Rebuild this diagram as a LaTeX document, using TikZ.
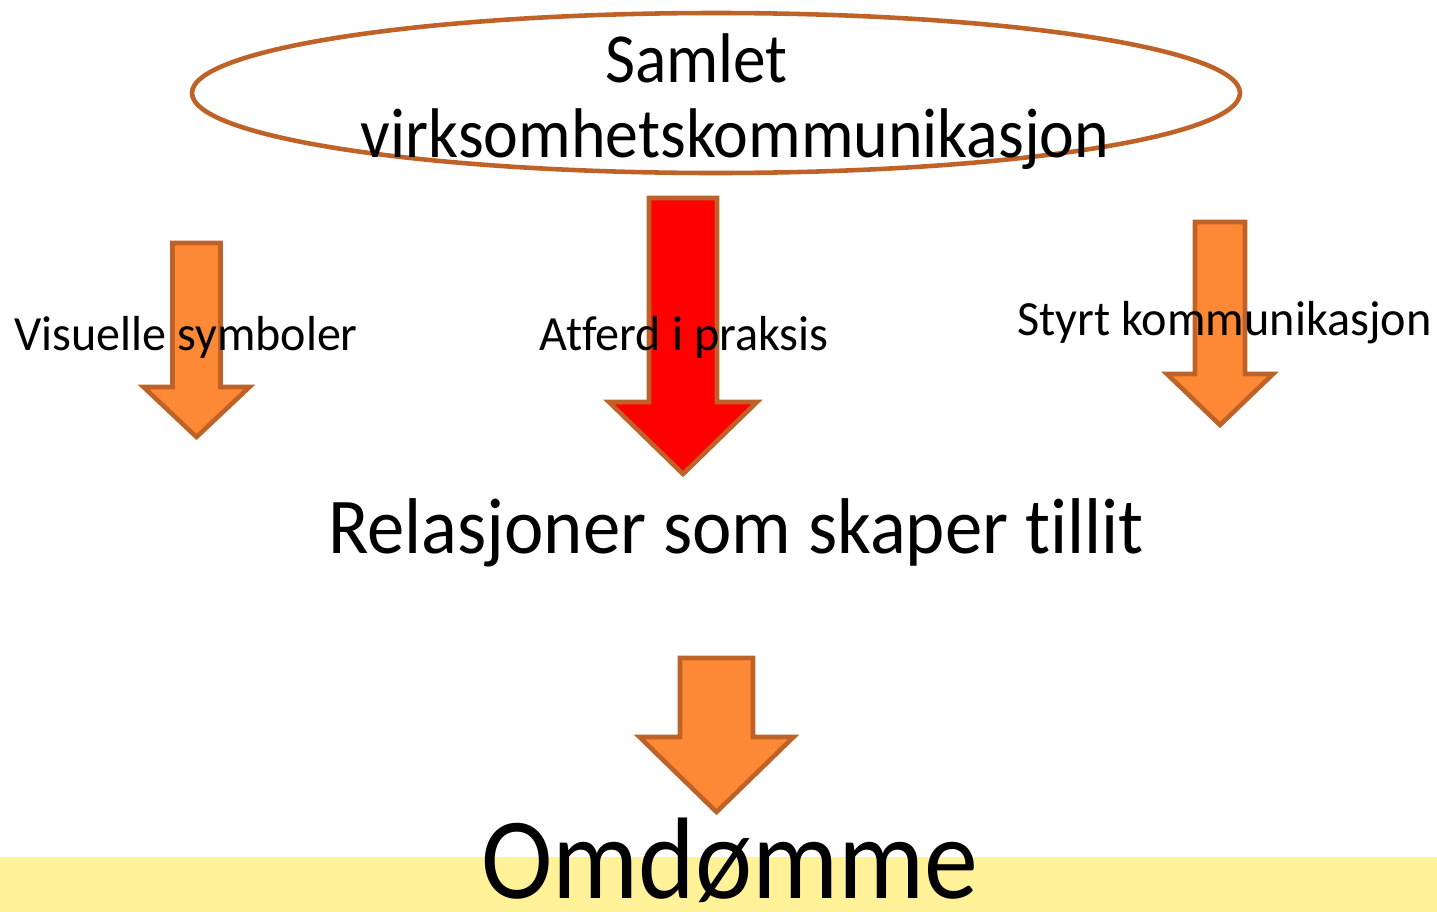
\documentclass[tikz,border=0pt]{standalone}
\usepackage{fontspec}
\setmainfont{Carlito}[Ligatures=NoCommon]
\usetikzlibrary{shapes.geometric}

\definecolor{arrowfill}{RGB}{253,137,55}
\definecolor{arrowline}{RGB}{190,98,40}
\definecolor{bandfill}{RGB}{255,242,153}

% block arrow pointing down: centre x, top, neck, tip, half shaft, half head
\newcommand{\downblock}[7]{%
  \filldraw[blockarrow,fill=#7] (#1-#5,#2) -- (#1+#5,#2) -- (#1+#5,#3) -- (#1+#6,#3)
    -- (#1,#4) -- (#1-#6,#3) -- (#1-#5,#3) -- cycle;}
% narrow the text a little
\newcommand{\narrow}[2]{\scalebox{#1}[1]{#2}}

\tikzset{
  blockarrow/.style={draw=arrowline,line width=1.3pt,line join=miter},
  lbl/.style={anchor=base,inner sep=0pt},
}

\begin{document}
\begin{tikzpicture}
\useasboundingbox (0,0) rectangle (14.37,-9.12);
\fill[bandfill] (0,-8.57) rectangle (14.37,-9.12);

\node[shape=ellipse,draw=arrowline,line width=1.3pt,minimum width=10.48cm,minimum height=1.6cm] (top) at (7.16,-0.93) {};

\downblock{1.965}{-2.43}{-3.87}{-4.37}{0.24}{0.53}{arrowfill}
\downblock{6.83}{-1.98}{-4.02}{-4.74}{0.34}{0.74}{red}
\downblock{12.20}{-2.22}{-3.74}{-4.25}{0.25}{0.53}{arrowfill}
\downblock{7.165}{-6.58}{-7.37}{-8.12}{0.365}{0.77}{arrowfill}

\node[lbl,font=\fontsize{20}{24}\selectfont] (samlet) at (6.965,-0.82) {\narrow{0.93}{Samlet}};
\node[lbl,font=\fontsize{20}{24}\selectfont] (virk) at (7.35,-1.57) {\narrow{0.937}{virksomhetskommunikasjon}};
\node[lbl,font=\fontsize{14}{17}\selectfont] (visuelle) at (1.86,-3.50) {\narrow{0.977}{Visuelle symboler}};
\node[lbl,font=\fontsize{14}{17}\selectfont] (atferd) at (6.84,-3.50) {\narrow{0.98}{Atferd i praksis}};
\node[lbl,font=\fontsize{14}{17}\selectfont] (styrt) at (12.245,-3.35) {\narrow{0.98}{Styrt kommunikasjon}};
\node[lbl,font=\fontsize{22.5}{27}\selectfont] (relasjoner) at (7.36,-5.53) {\narrow{0.944}{Relasjoner som skaper tillit}};
\node[lbl,font=\fontsize{33}{40}\selectfont] (omdomme) at (7.30,-8.98) {\narrow{0.93}{Omdømme}};
\end{tikzpicture}
\end{document}
